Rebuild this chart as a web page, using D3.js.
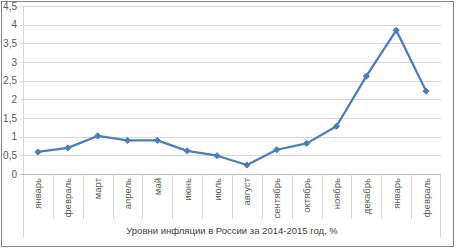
<!DOCTYPE html>
<html>
<head>
<meta charset="utf-8">
<script src="https://cdn.jsdelivr.net/npm/d3@7"></script>
<style>
  body { margin: 0; background: #fff; }
  text { font-family: "Liberation Sans", Arial, sans-serif; fill: #595959; }
</style>
</head>
<body>
<svg id="chart" width="457" height="249"></svg>
<script>
const months = ["январь", "февраль", "март", "апрель", "май", "июнь", "июль", "август",
    "сентябрь", "октябрь", "ноябрь", "декабрь", "январь", "февраль"]
const inflation = [0.59, 0.70, 1.02, 0.90, 0.90, 0.62, 0.49, 0.24, 0.65, 0.82, 1.28, 2.62, 3.85, 2.22]
const yTicks = [0, 0.5, 1, 1.5, 2, 2.5, 3, 3.5, 4, 4.5]
const axisTitle = "Уровни инфляции в России за 2014-2015 год, %"

const LINE = "#4a7ebb",
    GRID = "#d9d9d9",
    AXIS = "#bfbfbf"

const svg = d3.select("#chart")
const plotLeft = 23, plotRight = 441, plotTop = 6, plotBottom = 174

// outer chart border
svg.append("rect")
    .attr("x", 1.5).attr("y", 1.5)
    .attr("width", 452).attr("height", 245)
    .style("fill", "none")
    .style("stroke", "#868686")
    .style("stroke-width", 1)

const x = d3.scaleBand()
    .domain(d3.range(months.length))
    .range([plotLeft, plotRight])

const y = d3.scaleLinear()
    .domain([0, 4.5])
    .range([plotBottom, plotTop])

// y axis with gridlines
svg.append("g")
    .attr("transform", `translate(${plotLeft}, 0)`)
    .call(d3.axisLeft(y).tickValues(yTicks)
        .tickFormat(d => String(d).replace(".", ","))
        .tickSize(-(plotRight - plotLeft)).tickPadding(6))
    .call(g => g.select(".domain").remove())
    .call(g => g.selectAll(".tick line")
        .attr("x1", -3)
        .attr("shape-rendering", "crispEdges")
        .style("stroke", GRID))
    .call(g => g.selectAll(".tick text")
        .style("font-size", "10px")
        .style("fill", "#595959")
        .attr("font-family", "Liberation Sans"))

// vertical axis line
svg.append("line")
    .attr("x1", plotLeft + 0.5).attr("x2", plotLeft + 0.5)
    .attr("y1", plotTop).attr("y2", 238)
    .style("stroke", GRID)

svg.append("line")
    .attr("x1", plotRight - 0.5).attr("x2", plotRight - 0.5)
    .attr("y1", plotBottom).attr("y2", 238)
    .style("stroke", GRID)

// category axis
svg.append("line")
    .attr("x1", plotLeft - 3).attr("x2", plotRight)
    .attr("y1", plotBottom + 0.5).attr("y2", plotBottom + 0.5)
    .style("stroke", AXIS)

svg.append("g")
    .selectAll("line")
    .data(d3.range(1, months.length))
    .join("line")
    .attr("x1", i => Math.round(x(i)) + 0.5)
    .attr("x2", i => Math.round(x(i)) + 0.5)
    .attr("y1", plotBottom)
    .attr("y2", 219)
    .style("stroke", GRID)

svg.append("g")
    .selectAll("text")
    .data(months)
    .join("text")
    .attr("transform", (d, i) => `translate(${x(i) + x.bandwidth() / 2 + 3.5}, ${178}) rotate(-90)`)
    .attr("text-anchor", "end")
    .style("font-size", "9.5px")
    .text(d => d)

svg.append("text")
    .attr("x", (plotLeft + plotRight) / 2)
    .attr("y", 234)
    .attr("text-anchor", "middle")
    .style("font-size", "9.5px")
    .style("fill", "#404040")
    .text(axisTitle)

// series
const line = d3.line()
    .x((d, i) => x(i) + x.bandwidth() / 2)
    .y(d => y(d))

svg.append("path")
    .datum(inflation)
    .attr("d", line)
    .style("fill", "none")
    .style("stroke", LINE)
    .style("stroke-width", 2.25)
    .style("stroke-linejoin", "round")

svg.append("g")
    .selectAll("path")
    .data(inflation)
    .join("path")
    .attr("d", d3.symbol(d3.symbolDiamond2, 24))
    .attr("transform", (d, i) => `translate(${x(i) + x.bandwidth() / 2}, ${y(d)})`)
    .style("fill", LINE)
    .style("stroke", LINE)
    .style("stroke-width", 1)
</script>
</body>
</html>
